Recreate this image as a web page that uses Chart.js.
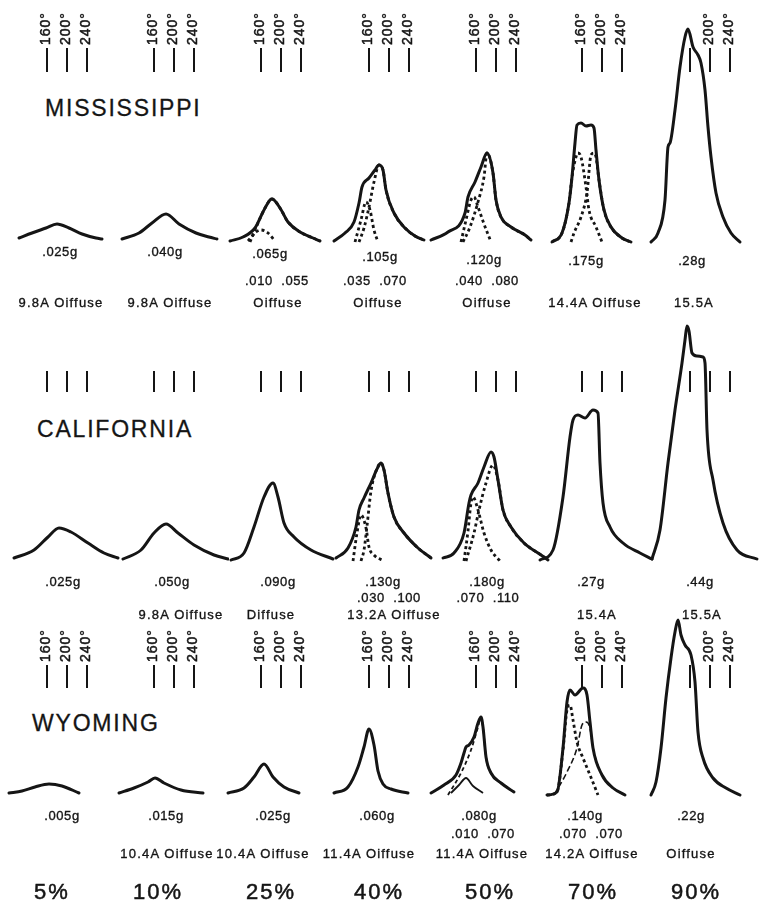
<!DOCTYPE html>
<html>
<head>
<meta charset="utf-8">
<script src="https://cdn.jsdelivr.net/npm/chart.js@4.4.1/dist/chart.umd.min.js"></script>
<style>
  html, body { margin: 0; padding: 0; background: #fff; }
  #page { position: relative; width: 759px; height: 906px; overflow: hidden;
          font-family: "Liberation Sans", Arial, sans-serif; color: #151515; }
  #page canvas { position: absolute; }
  .lbl   { position: absolute; transform: translate(-50%, -50%); white-space: pre;
           font-size: 13px; letter-spacing: 0.6px; line-height: 1;
           -webkit-text-stroke: 0.35px #151515; }
  .note  { letter-spacing: 1.2px; }
  .mix   { font-size: 22px; letter-spacing: 2px; -webkit-text-stroke: 0.5px #151515; }
  .title { position: absolute; transform: translateY(-50%); font-size: 23px;
           letter-spacing: 1.8px; line-height: 1; -webkit-text-stroke: 0.3px #151515; }
</style>
</head>
<body>
<div id="page"></div>
<script>
// =============================================
// Data (angle in degrees, intensity in chart units)
// =============================================
const mixes = ['5%', '10%', '25%', '40%', '50%', '70%', '90%'];
const tickDegrees = [160, 200, 240];

// Mississippi
const misGrav  = ['.025g', '.040g', '.065g', '.105g', '.120g', '.175g', '.28g'];
const misSplit = ['', '', '.010  .055', '.035  .070', '.040  .080', '', ''];
const misNote  = ['9.8A Oiffuse', '9.8A Oiffuse', 'Oiffuse', 'Oiffuse', 'Oiffuse', '14.4A Oiffuse', '15.5A'];
const misTrace = [
  [[104,4],[130,9],[158,14],[180,18],[204,14],[230,8],[258,4],[270,3]],
  [[96,3],[130,9],[156,19],[184,28],[210,18],[244,9],[270,5],[286,3]],
  [[98,1],[124,5],[148,14],[164,30],[178,42],[182,43],[198,34],[214,20],[238,10],[264,4],[278,1]],
  [[90,1],[112,9],[130,20],[140,39],[146,55],[160,64],[172,72],[180,77],[188,72],[194,52],[210,29],[232,14],[252,6],[270,2]],
  [[70,2],[104,10],[138,29],[144,45],[158,60],[170,75],[182,89],[194,69],[200,42],[210,25],[230,15],[258,7],[270,2]],
  [[100,0],[120,9],[134,39],[140,65],[146,99],[150,117],[158,119],[168,116],[178,117],[184,114],[188,92],[194,62],[204,32],[218,15],[240,4],[258,0]],
  [[82,0],[96,9],[110,42],[116,95],[120,99],[130,132],[140,175],[150,205],[156,213],[166,195],[176,187],[182,179],[190,152],[196,115],[202,85],[212,49],[226,25],[242,9],[260,0]]
];
const misComp = [
  null,
  null,
  [[[134,1],[150,10],[160,12],[174,9],[188,1]],
   [[138,0],[154,19],[168,34],[182,43],[198,34],[214,20],[238,10],[264,4],[278,1]]],
  [[[132,0],[144,22],[154,40],[162,32],[170,12],[178,0]],
   [[140,0],[150,14],[160,35],[170,60],[180,77],[188,72],[194,52],[210,29],[232,14],[252,6],[270,2]]],
  [[[130,0],[140,22],[150,42],[156,45],[164,35],[176,18],[190,0]],
   [[134,0],[148,15],[164,40],[176,65],[182,89],[194,69],[200,42],[210,25],[230,15],[258,7],[270,2]]],
  [[[100,0],[120,9],[134,39],[140,65],[148,85],[152,89],[158,85],[168,55],[174,32],[188,15],[200,0]],
   [[138,0],[144,9],[158,25],[170,49],[178,87],[184,89],[188,85],[194,62],[204,32],[218,15],[240,4],[258,0]]],
  null
];

// California
const calGrav  = ['.025g', '.050g', '.090g', '.130g', '.180g', '.27g', '.44g'];
const calSplit = ['', '', '', '.030  .100', '.070  .110', '', ''];
const calNote  = ['', '9.8A Oiffuse', 'Diffuse', '13.2A Oiffuse', '', '15.4A', '15.5A'];
const calTrace = [
  [[94,3],[134,11],[162,24],[184,33],[208,29],[242,18],[274,8],[302,3]],
  [[98,2],[134,11],[160,28],[184,37],[208,28],[240,16],[280,6],[308,2]],
  [[100,1],[126,8],[146,34],[166,64],[184,78],[194,64],[206,38],[226,24],[260,11],[304,2]],
  [[94,3],[118,13],[134,34],[140,51],[150,63],[164,78],[178,94],[184,98],[190,91],[198,68],[210,44],[230,28],[258,13],[284,3]],
  [[94,3],[116,8],[136,28],[146,58],[150,66],[164,78],[176,94],[190,109],[196,104],[204,81],[214,51],[230,34],[256,18],[290,6],[304,1]],
  [[76,1],[102,11],[122,64],[136,124],[142,141],[152,146],[166,143],[182,151],[192,148],[196,98],[202,58],[216,34],[242,18],[276,8],[300,2]],
  [[84,2],[100,31],[116,98],[130,151],[144,198],[150,221],[154,235],[158,230],[164,208],[174,205],[186,204],[190,198],[194,131],[206,81],[226,38],[254,11],[294,2]]
];
const calComp = [
  null, null, null,
  [[[128,0],[136,28],[144,46],[154,33],[160,14],[170,6],[190,0]],
   [[144,0],[150,11],[156,35],[164,70],[174,90],[184,98],[190,91],[198,68],[210,44],[230,28],[258,13],[284,3]]],
  [[[136,0],[144,30],[150,58],[154,64],[164,51],[176,28],[190,11],[208,0]],
   [[140,0],[156,28],[166,51],[180,78],[194,96],[204,81],[214,51],[230,34],[256,18],[290,6],[304,1]]],
  null, null
];

// Wyoming
const wyoGrav  = ['.005g', '.015g', '.025g', '.060g', '.080g', '.140g', '.22g'];
const wyoSplit = ['', '', '', '', '.010  .070', '.070  .070', ''];
const wyoNote  = ['', '10.4A Oiffuse', '10.4A Oiffuse', '11.4A Oiffuse', '11.4A Oiffuse', '14.2A Oiffuse', 'Oiffuse'];
const wyoTrace = [
  [[84,2],[110,4],[136,8],[164,11],[190,9],[224,2]],
  [[90,2],[120,7],[148,13],[162,17],[180,12],[214,5],[258,2]],
  [[94,2],[126,7],[146,18],[166,31],[184,18],[206,8],[236,2]],
  [[90,2],[118,8],[138,28],[150,48],[160,66],[170,50],[178,24],[188,11],[204,6],[238,2]],
  [[70,2],[96,10],[120,20],[130,32],[136,42],[140,48],[146,50],[156,58],[164,72],[170,78],[174,68],[180,38],[190,22],[210,12],[236,3]],
  [[90,0],[110,3],[122,47],[130,93],[136,105],[146,100],[162,107],[170,100],[176,73],[182,47],[200,20],[222,7],[246,0]],
  [[82,0],[92,13],[102,47],[112,97],[122,137],[130,163],[136,175],[142,160],[150,150],[162,140],[170,113],[176,63],[186,37],[206,17],[232,7],[260,0]]
];
const wyoComp = [
  null, null, null, null,
  [[[110,2],[126,10],[140,17],[154,9],[174,2]],
   [[104,0],[130,22],[150,45],[164,68],[170,78],[174,68],[180,38],[190,22],[210,12],[236,3]]],
  [[[90,0],[110,3],[122,45],[130,85],[136,90],[142,75],[150,53],[162,37],[176,20],[192,0]],
   [[104,0],[130,23],[150,47],[160,70],[168,73],[176,67],[182,47],[200,20],[222,7],[246,0]]],
  null
];

// =============================================
// Layout
// =============================================
const X_MIN = 50, X_MAX = 310, PX_PER_DEG = 0.5, Y_MIN = -5;
const COL_X = [47, 154, 261, 369, 476, 582, 690];   // pixel of the 160° mark in each column
const MIX_X = [52, 158, 271, 379, 490, 593, 696];
const INK = '#151515';

const ROWS = [
  { name: 'MISSISSIPPI', nameX: 45, nameY: 108, base: 242, yMax: 242,
    tickFrom: 170, tickTo: 194, tickLabels: true, hide160: [6],
    trace: misTrace, comp: misComp, grav: misGrav, split: misSplit, note: misNote,
    gravX: [60, 165, 270, 380, 484, 586, 692], gravY: [251, 251, 253, 256, 259, 260, 260],
    splitX: [0, 0, 277, 375, 487, 0, 0], splitY: 280,
    noteX: [61, 170, 278, 378, 487, 595, 694], noteY: 302 },
  { name: 'CALIFORNIA', nameX: 37, nameY: 429, base: 561, yMax: 250,
    tickFrom: 169, tickTo: 190, tickLabels: false, hide160: [],
    trace: calTrace, comp: calComp, grav: calGrav, split: calSplit, note: calNote,
    gravX: [63, 172, 278, 383, 487, 591, 700], gravY: [581, 581, 581, 581, 581, 581, 581],
    splitX: [0, 0, 0, 389, 488, 0, 0], splitY: 597,
    noteX: [0, 181, 271, 394, 0, 597, 702], noteY: 614 },
  { name: 'WYOMING', nameX: 32, nameY: 723, base: 795, yMax: 185,
    tickFrom: 107, tickTo: 130, tickLabels: true, hide160: [6],
    trace: wyoTrace, comp: wyoComp, grav: wyoGrav, split: wyoSplit, note: wyoNote,
    gravX: [62, 166, 273, 377, 479, 585, 691], gravY: [815, 815, 815, 815, 815, 815, 815],
    splitX: [0, 0, 0, 0, 483, 591, 0], splitY: 833,
    noteX: [0, 167, 263, 369, 482, 592, 691], noteY: 853 }
];

// component curves drawn thinner / differently in the original
const COMP_STYLE = {
  '2-4-0': { dash: [], width: 1.8 },
  '2-4-1': { dash: [4, 3], width: 1.8 },
  '2-5-1': { dash: [6, 3], width: 1.6 }
};

// =============================================
// Tick marks at 160°, 200°, 240°
// =============================================
const degreeTicks = {
  id: 'degreeTicks',
  afterDatasetsDraw(chart, args, opts) {
    const { ctx, scales: { x, y } } = chart;
    ctx.save();
    ctx.strokeStyle = INK;
    ctx.fillStyle = INK;
    ctx.lineWidth = 2;
    ctx.font = '14px "Liberation Sans", Arial, sans-serif';
    ctx.letterSpacing = '1px';
    opts.values.forEach(v => {
      const px = Math.round(x.getPixelForValue(v));
      const yTop = y.getPixelForValue(opts.to);
      ctx.beginPath();
      ctx.moveTo(px, y.getPixelForValue(opts.from));
      ctx.lineTo(px, yTop);
      ctx.stroke();
      if (opts.labels && !(opts.noLabel || []).includes(v)) {
        ctx.save();
        ctx.translate(px + 3, yTop - 3);
        ctx.rotate(-Math.PI / 2);
        ctx.textAlign = 'left';
        ctx.textBaseline = 'alphabetic';
        ctx.lineWidth = 0.5;
        ctx.fillText(v + '°', 0, 0);
        ctx.strokeText(v + '°', 0, 0);
        ctx.restore();
      }
    });
    ctx.restore();
  }
};

// =============================================
// Panels
// =============================================
const page = document.getElementById('page');

function toPoints(list) {
  return list.map(([x, y]) => ({ x, y }));
}

function makePanel(row, r, col) {
  const canvas = document.createElement('canvas');
  const w = (X_MAX - X_MIN) * PX_PER_DEG;
  const h = row.yMax - Y_MIN;
  canvas.width = w;
  canvas.height = h;
  canvas.style.width = w + 'px';
  canvas.style.height = h + 'px';
  canvas.style.left = (COL_X[col] - (160 - X_MIN) * PX_PER_DEG) + 'px';
  canvas.style.top = (row.base - row.yMax) + 'px';
  page.appendChild(canvas);

  const datasets = [{
    data: toPoints(row.trace[col]),
    borderColor: INK,
    borderWidth: 3,
    borderJoinStyle: 'round',
    borderCapStyle: 'round',
    cubicInterpolationMode: 'monotone',
    pointRadius: 0,
    fill: false,
    clip: false
  }];

  (row.comp[col] || []).forEach((pts, i) => {
    const st = COMP_STYLE[`${r}-${col}-${i}`] || { dash: [3, 3], width: 2.8 };
    datasets.push({
      data: toPoints(pts),
      borderColor: INK,
      borderWidth: st.width,
      borderDash: st.dash,
      cubicInterpolationMode: 'monotone',
      pointRadius: 0,
      fill: false,
      clip: false
    });
  });

  new Chart(canvas, {
    type: 'line',
    data: { datasets },
    options: {
      responsive: false,
      animation: false,
      devicePixelRatio: 1,
      layout: { padding: 0 },
      scales: {
        x: { type: 'linear', display: false, min: X_MIN, max: X_MAX },
        y: { display: false, min: Y_MIN, max: row.yMax }
      },
      plugins: {
        legend: { display: false },
        tooltip: { enabled: false },
        degreeTicks: {
          values: tickDegrees,
          from: row.tickFrom,
          to: row.tickTo,
          labels: row.tickLabels,
          noLabel: row.hide160.includes(col) ? [160] : []
        }
      }
    },
    plugins: [degreeTicks]
  });
}

function addText(text, x, y, cls) {
  if (!text) return;
  const el = document.createElement('div');
  el.className = cls;
  el.textContent = text;
  el.style.left = x + 'px';
  el.style.top = y + 'px';
  page.appendChild(el);
}

// =============================================
// Start
// =============================================
ROWS.forEach((row, r) => {
  const title = document.createElement('div');
  title.className = 'title';
  title.textContent = row.name;
  title.style.left = row.nameX + 'px';
  title.style.top = row.nameY + 'px';
  page.appendChild(title);

  for (let col = 0; col < 7; col++) {
    makePanel(row, r, col);
    addText(row.grav[col], row.gravX[col], row.gravY[col], 'lbl');
    addText(row.split[col], row.splitX[col], row.splitY, 'lbl');
    addText(row.note[col], row.noteX[col], row.noteY, 'lbl note');
  }
});

mixes.forEach((m, i) => addText(m, MIX_X[i], 892, 'lbl mix'));
</script>
</body>
</html>
